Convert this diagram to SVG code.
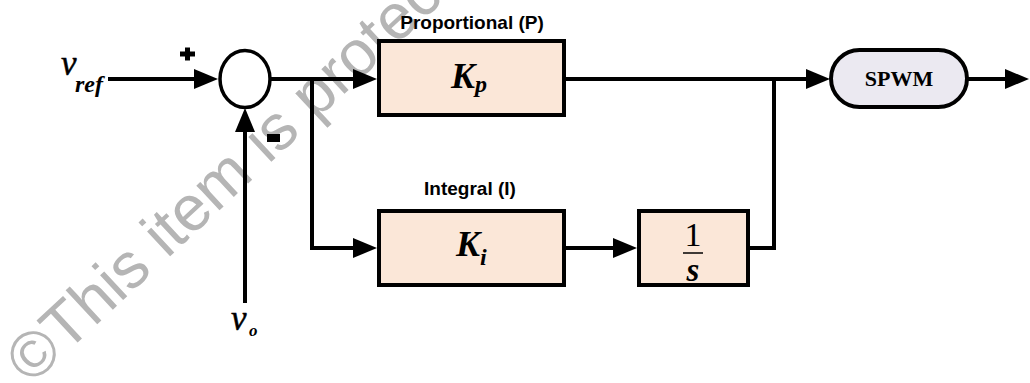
<svg xmlns="http://www.w3.org/2000/svg" width="1030" height="383" viewBox="0 0 1030 383">
  <style>
    .wm { font-family: "Liberation Sans", Arial, sans-serif; font-size: 64px; fill: #b5b5b5; }
    .blk { fill: #fbe7d8; stroke: #000; stroke-width: 4; }
    .pill { fill: #ebe9f1; stroke: #000; stroke-width: 4; }
    .sum { fill: #fff; stroke: #000; stroke-width: 3.5; }
    .lab { font-family: "Liberation Sans", Arial, sans-serif; font-weight: bold; font-size: 19px; fill: #000; text-anchor: middle; }
    .math { font-family: "Liberation Serif", "Times New Roman", serif; fill: #000; }
    .mbi { font-family: "Liberation Serif", "Times New Roman", serif; font-style: italic; font-weight: bold; fill: #000; }
    .mi { font-family: "Liberation Serif", "Times New Roman", serif; font-style: italic; fill: #000; }
    .wire { fill: none; stroke: #000; stroke-width: 4; }
    .arr { fill: none; stroke: #000; stroke-width: 4; marker-end: url(#ah); }
  </style>
  <defs>
    <marker id="ah" markerUnits="userSpaceOnUse" markerWidth="26" markerHeight="22" refX="0" refY="10" orient="auto" overflow="visible">
      <path d="M0,0 L24,10 L0,20 Z" fill="#000"/>
    </marker>
  </defs>

  <rect width="1030" height="383" fill="#fff"/>

  <g id="watermark">
    <text class="wm" transform="translate(31,386) rotate(-43)">©This item is protec</text>
  </g>

  <g id="connectors">
    <path class="arr" d="M108,79 H194"/>
    <path class="arr" d="M270,79 H353"/>
    <path class="arr" d="M312,79 V248 H353"/>
    <path class="arr" d="M245,303 V132"/>
    <path class="arr" d="M564,79 H806"/>
    <path class="arr" d="M564,248 H613"/>
    <path class="wire" d="M748,248 H774 V79"/>
    <path class="arr" d="M967,79 H1005"/>
  </g>

  <g id="vref">
    <text class="mi" x="61" y="75" font-size="35" stroke="#000" stroke-width="0.5">v</text>
    <text class="mbi" x="75" y="92" font-size="24">ref</text>
  </g>

  <g id="vo">
    <text class="mi" x="231" y="330" font-size="35" stroke="#000" stroke-width="0.5">v</text>
    <text class="mbi" x="249" y="336" font-size="17">o</text>
  </g>

  <g id="sum">
    <ellipse class="sum" cx="245" cy="79" rx="25" ry="28.5"/>
    <path d="M180,54 H195 M187.5,47.5 V60.5" stroke="#000" stroke-width="5" fill="none"/>
    <rect x="267" y="134" width="13" height="8" fill="#000"/>
  </g>

  <g id="kp">
    <text class="lab" x="472" y="29">Proportional (P)</text>
    <rect class="blk" x="379" y="41" width="185" height="74"/>
    <text class="mbi" x="451" y="88" font-size="36">K</text>
    <text class="mbi" x="475" y="92" font-size="24">p</text>
  </g>

  <g id="ki">
    <text class="lab" x="470" y="195">Integral (I)</text>
    <rect class="blk" x="379" y="211" width="185" height="74"/>
    <text class="mbi" x="456" y="256" font-size="36">K</text>
    <text class="mbi" x="480" y="265" font-size="24">i</text>
  </g>

  <g id="integrator">
    <rect class="blk" x="639" y="211" width="109" height="74"/>
    <text class="math" x="693" y="246" font-size="34" text-anchor="middle">1</text>
    <line x1="683" y1="253" x2="703" y2="253" stroke="#000" stroke-width="1.5"/>
    <text class="mbi" x="693" y="281" font-size="33" text-anchor="middle">s</text>
  </g>

  <g id="spwm">
    <rect class="pill" x="831" y="50" width="136" height="57" rx="28.5" ry="28.5"/>
    <text class="math" x="899" y="86" font-size="22" font-weight="bold" text-anchor="middle">SPWM</text>
  </g>
</svg>
